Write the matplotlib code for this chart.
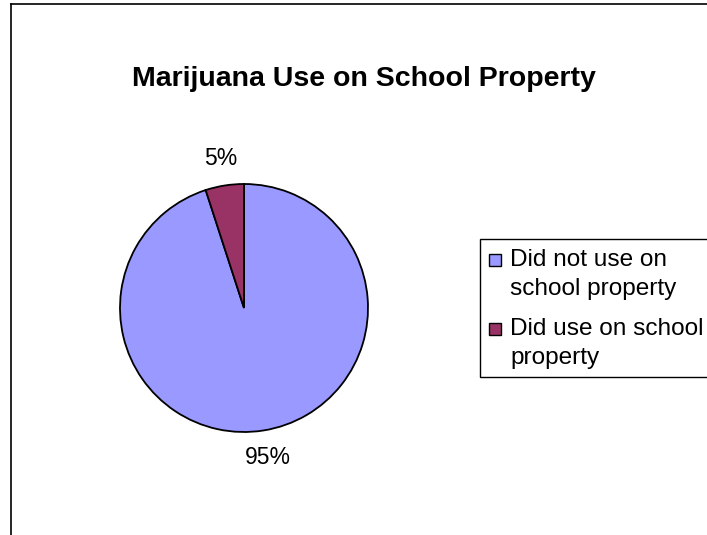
import matplotlib
matplotlib.use("Agg")
import matplotlib.pyplot as plt
from matplotlib.lines import Line2D
from matplotlib.patches import Rectangle

plt.rcParams['font.family'] = ['Liberation Sans', 'DejaVu Sans']

title = "Marijuana Use on School Property"
categories = ["Did not use on\nschool property", "Did use on school\nproperty"]
values = [95, 5]
pct_labels = ["95%", "5%"]
colors = ["#9999FF", "#993366"]

W, H = 707, 535
fig = plt.figure(figsize=(W / 100, H / 100), dpi=100)


def fx(px):
    return px / W


def fy(py):
    return 1 - py / H


# outer chart border (left and top visible)
fig.add_artist(Line2D([fx(11), fx(11)], [0, fy(4)], transform=fig.transFigure, color="black", lw=1.2))
fig.add_artist(Line2D([fx(11), 1], [fy(4), fy(4)], transform=fig.transFigure, color="black", lw=1.2))

cx, cy, r = 244, 308, 124
ax = fig.add_axes([fx(cx - r), fy(cy + r), 2 * r / W, 2 * r / H])
wedges, texts = ax.pie(values, colors=colors, startangle=90, counterclock=False,
                       labels=pct_labels, labeldistance=1.22,
                       wedgeprops=dict(edgecolor="black", linewidth=1.3),
                       textprops=dict(fontsize=16.5, color="black"))
for t in texts:
    t.set_ha("center")
    t.set_va("center")
    t.set_clip_on(False)
ax.set_xlim(-1, 1)
ax.set_ylim(-1, 1)
ax.set_aspect("equal")
ax.axis("off")

fig.text(fx(364), fy(79), title, ha="center", va="center", fontsize=20.5, fontweight="bold")

# legend (frame extends past the right edge as in the reference)
fig.add_artist(Rectangle((fx(480), fy(377)), fx(260), (377 - 239) / H, transform=fig.transFigure,
                         facecolor="white", edgecolor="black", lw=1.0))
entry_top_baseline = [266, 335]
line_pitch = 29
for i, (lab, col) in enumerate(zip(categories, colors)):
    b0 = entry_top_baseline[i]
    fig.add_artist(Rectangle((fx(489), fy(b0)), 12 / W, 12 / H, transform=fig.transFigure,
                             facecolor=col, edgecolor="black", lw=1.0))
    for j, line in enumerate(lab.split("\n")):
        fig.text(fx(510), fy(b0 + j * line_pitch), line, ha="left", va="baseline", fontsize=17.6)

fig.savefig("out.png", dpi=100)
